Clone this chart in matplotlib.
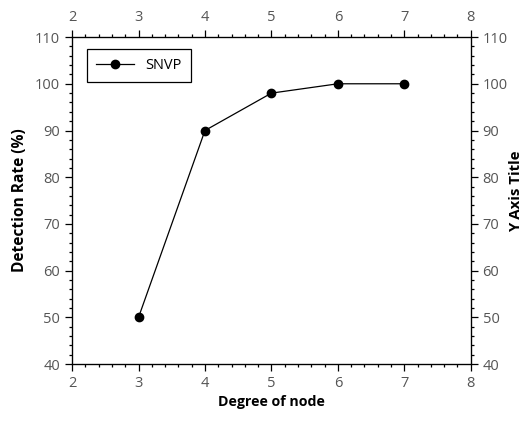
import matplotlib
matplotlib.use('Agg')
import matplotlib.pyplot as plt
from matplotlib.ticker import MultipleLocator

# Data
degree = [3, 4, 5, 6, 7]
detection_rate = [50, 90, 98, 100, 100]
series_name = 'SNVP'

x_ticks = [2, 3, 4, 5, 6, 7, 8]
y_ticks = [40, 50, 60, 70, 80, 90, 100, 110]

plt.rcParams['font.family'] = ['Open Sans', 'DejaVu Sans']
tick_color = '#555555'

fig = plt.figure(figsize=(5.26, 4.21), dpi=100)
ax = fig.add_axes([0.137, 0.135, 0.758, 0.777])

ax.plot(degree, detection_rate, color='black', lw=0.9, marker='o',
        markersize=6, label=series_name)

ax.set_xlim(2, 8)
ax.set_ylim(40, 110)
ax.set_xticks(x_ticks)
ax.set_yticks(y_ticks)
ax.xaxis.set_minor_locator(MultipleLocator(0.2))
ax.yaxis.set_minor_locator(MultipleLocator(2))

ax.tick_params(which='both', direction='out', top=True, right=True,
               labeltop=True, labelsize=10.5, labelcolor=tick_color,
               width=0.9, color='black')
ax.tick_params(which='major', length=5)
ax.tick_params(which='minor', length=2.5)
for s in ax.spines.values():
    s.set_linewidth(0.9)

ax.set_xlabel('Degree of node', fontsize=10.2, fontweight='bold', labelpad=3)
ax.set_ylabel('Detection Rate (%)', fontsize=11.2, fontweight='bold', labelpad=5)

# Right axis
ax2 = ax.twinx()
ax2.set_ylim(40, 110)
ax2.set_yticks(y_ticks)
ax2.yaxis.set_minor_locator(MultipleLocator(2))
ax2.tick_params(which='both', direction='out', labelsize=10.5,
                labelcolor=tick_color, width=0.9)
ax2.tick_params(which='major', length=5)
ax2.tick_params(which='minor', length=2.5)
ax2.set_ylabel('Y Axis Title', fontsize=10.8, fontweight='bold', rotation=90)
ax2.yaxis.set_label_coords(1.097, 0.53)

leg = ax.legend(loc='upper left', fontsize=10.5, fancybox=False,
                edgecolor='black', framealpha=1, handlelength=2.6,
                borderpad=0.6, bbox_to_anchor=(0.02, 0.985))
leg.get_frame().set_linewidth(0.9)

fig.savefig('out.png', dpi=100)
